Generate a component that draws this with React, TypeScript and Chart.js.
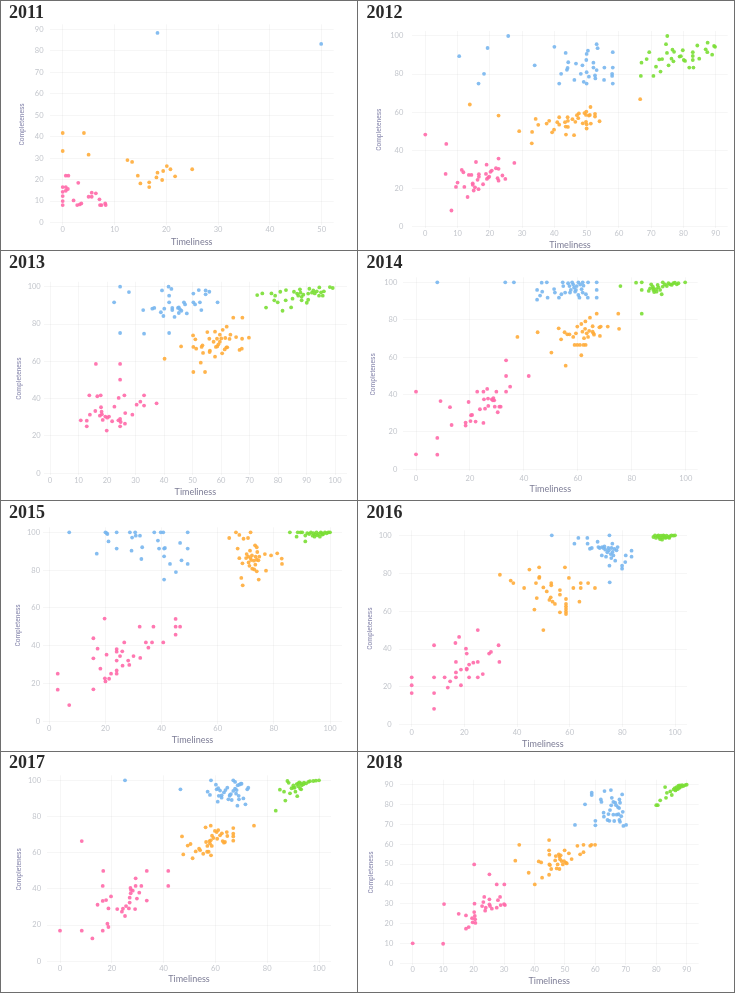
import React, { useEffect, useRef } from "react";
import { Chart, registerables } from "chart.js";
Chart.register(...registerables);

type Pts = [number, number][];

// ---------- data ----------
const pink2011: Pts = [[0.6,21.8],[1.1,21.8],[3.0,18.5],[0,16.5],[0.6,16.5],[1.0,15.6],[0.6,14.8],[0,14.3],[0,12.3],[0,10],[2.1,10.3],[0,8.1],[2.8,8.1],[3.3,8.4],[3.6,8.9],[5.0,12.0],[5.6,13.9],[5.6,12.0],[6.4,13.6],[7.1,10.8],[7.2,8.1],[7.5,8.1],[8.2,8.9],[8.3,8.1]];
const orange2011: Pts = [[0,41.7],[4.1,41.7],[0,33.3],[5.0,31.6],[12.5,29.1],[13.4,28.2],[14.5,21.8],[15.0,18.2],[16.7,18.7],[16.7,16.5],[18.1,21.0],[18.3,23.2],[19.2,19.8],[19.4,24.0],[20.1,26.3],[20.8,24.8],[21.7,21.5],[25.0,24.8]];
const blue2011: Pts = [[18.3,88.3],[49.9,83.2]];
const green2011: Pts = [];

const pink2012: Pts = [[0,48.2],[6.5,43.3],[6.3,27.5],[8.1,8.3],[9.5,20.7],[10.0,23.0],[11.3,29.6],[11.8,28.4],[12.1,20.7],[13.1,15.4],[13.5,27.0],[14.3,27.0],[14.7,22.6],[14.7,21.8],[15.0,18.8],[15.4,20.5],[15.7,33.8],[16.2,24.4],[16.6,27.4],[16.6,26.0],[16.5,19.5],[17.9,22.1],[18.8,27.5],[19.0,32.4],[19.1,24.9],[19.5,25.6],[19.8,26.1],[20.2,28.6],[20.6,29.3],[21.9,30.5],[22.7,30.2],[22.7,35.6],[22.4,25.3],[22.7,24.0],[23.9,26.7],[24.8,24.9],[27.6,33.3]];
const orange2012: Pts = [[66.6,66.8],[13.8,64.0],[22.7,58.2],[29.1,50.0],[33.1,49.6],[33.0,43.6],[34.2,56.4],[35.0,53.3],[37.6,54.0],[38.4,55.4],[39.3,49.4],[39.9,50.8],[40.9,54.7],[41.5,57.3],[41.5,53.4],[43.3,54.7],[43.5,52.4],[44.2,52.2],[43.6,48.2],[44.1,57.3],[44.2,55.4],[45.6,56.3],[46.1,47.9],[46.5,54.9],[47.0,58.4],[47.4,56.8],[47.6,59.3],[48.8,54.1],[49.3,59.5],[49.9,60.3],[49.8,58.5],[49.8,54.9],[50.0,53.6],[50.0,51.4],[50.7,58.2],[51.0,58.5],[51.2,62.7],[51.3,54.0],[52.6,59.1],[52.6,57.7],[54.0,55.2]];
const blue2012: Pts = [[25.7,100],[19.3,93.7],[10.5,89.4],[18.2,80.1],[16.5,75.0],[33.9,84.6],[40.0,94.3],[43.5,91.1],[44.3,86.2],[44.1,83.2],[43.9,82.2],[42.1,80.1],[41.5,75.0],[46.2,76.9],[46.7,85.5],[48.7,84.6],[48.2,80.1],[49.1,75.9],[50.0,75.0],[49.9,87.4],[50.0,90.6],[50.4,92.3],[50.7,78.6],[50.0,81.0],[52.1,86.0],[52.1,83.4],[52.7,77.7],[52.6,79.3],[53.1,95.7],[53.4,93.6],[53.1,82.1],[55.4,76.9],[55.5,83.4],[58.1,91.5],[58.1,83.4],[57.9,80.1],[57.9,79.0],[58.1,75.0]];
const green2012: Pts = [[75.0,100],[74.6,95.7],[74.9,91.1],[69.4,91.5],[68.6,87.9],[67.0,86.0],[66.8,79.0],[70.7,79.0],[71.5,83.9],[72.9,81.3],[72.5,87.7],[73.4,87.9],[75.4,84.6],[76.3,88.1],[76.6,92.8],[77.1,91.7],[76.9,86.7],[78.8,89.2],[79.8,92.5],[79.2,89.4],[80.1,87.4],[80.5,86.9],[81.8,83.4],[83.1,83.4],[82.9,91.5],[82.9,89.5],[82.9,87.4],[84.3,95.0],[84.9,88.1],[86.9,93.0],[87.5,96.5],[87.4,91.5],[88.9,90.2],[89.5,94.8],[89.8,94.3]];

const pink2013: Pts = [[16.1,58.6],[24.6,58.6],[24.6,50.2],[10.8,28.4],[12.9,28.2],[12.9,25.2],[14.0,31.4],[13.8,41.8],[15.9,33.4],[16.6,41.3],[17.8,41.8],[17.9,35.4],[18.1,33.0],[17.5,30.9],[18.2,31.6],[18.5,28.6],[19.4,30.4],[19.9,22.9],[20.1,29.8],[20.7,30.4],[21.8,27.9],[22.6,35.7],[24.1,40.4],[24.0,28.4],[24.6,29.1],[24.6,25.2],[24.8,27.5],[26.1,41.8],[26.4,32.3],[26.3,26.6],[28.9,31.4],[30.4,36.8],[31.7,38.4],[33.0,41.8],[33.0,36.3],[37.4,37.5]];
const orange2013: Pts = [[64.3,83.4],[67.5,83.4],[40.2,61.4],[46.0,68.0],[50.2,73.9],[51.0,71.8],[50.3,67.7],[50.3,54.3],[51.3,66.8],[52.9,59.3],[53.5,68.6],[53.2,67.7],[53.7,64.5],[54.4,54.3],[55.2,75.7],[55.9,72.1],[56.1,65.7],[56.0,65.0],[57.4,70.5],[57.9,75.9],[57.9,62.5],[58.2,67.7],[58.6,72.1],[58.7,68.0],[59.1,69.1],[59.6,74.3],[59.6,70.5],[60.1,72.3],[60.4,64.3],[60.6,76.9],[61.3,66.4],[61.5,72.5],[62.0,78.6],[61.9,67.5],[62.2,67.5],[63.0,72.0],[63.3,74.3],[65.3,73.0],[66.5,66.1],[67.3,66.8],[67.4,72.1],[69.8,72.7]];
const blue2013: Pts = [[24.6,100],[27.7,97.1],[22.5,91.6],[32.7,87.5],[24.6,75.2],[33.0,74.8],[41.8,75.2],[35.9,88.2],[36.6,88.6],[39.3,98.0],[38.9,86.3],[39.8,84.3],[40.1,88.2],[41.6,100],[42.6,98.8],[41.8,95.2],[41.8,91.6],[42.9,88.6],[42.9,87.5],[43.7,83.8],[44.9,88.6],[45.2,88.9],[45.6,87.9],[46.1,87.1],[45.2,85.9],[47.0,91.6],[47.4,90.5],[48.0,85.7],[50.3,96.3],[50.3,91.6],[50.9,90.5],[52.2,98.2],[52.6,91.6],[53.1,87.5],[54.6,98.0],[54.6,95.9],[55.9,97.3],[58.8,91.6]];
const green2013: Pts = [[72.7,95.5],[74.5,96.4],[75.8,88.8],[77.7,96.4],[79.0,95.2],[78.7,92.7],[79.9,91.6],[80.8,97.3],[81.6,87.1],[82.7,92.7],[82.8,98.2],[84.6,88.9],[85.1,93.6],[85.6,97.3],[86.7,96.3],[87.1,95.2],[87.7,98.6],[87.9,96.8],[88.3,94.6],[88.3,92.7],[88.9,95.7],[90.1,91.4],[90.6,93.0],[90.6,96.3],[91.0,98.9],[91.9,96.8],[92.4,98.0],[92.9,96.4],[93.6,97.5],[94.5,99.6],[94.4,95.2],[95.1,97.0],[95.7,95.2],[96.1,97.5],[98.2,99.8],[99.2,99.3]];

const pink2014: Pts = [[0,41.5],[0,8.0],[7.9,16.8],[7.9,7.8],[9.1,36.5],[12.6,33.2],[13.2,23.7],[18.4,25.0],[18.4,23.4],[19.5,36.0],[20.2,25.8],[20.4,28.9],[20.8,29.1],[22.1,25.5],[22.7,41.5],[23.7,32.1],[25.0,24.8],[25.2,37.4],[25.0,41.5],[25.6,32.4],[26.4,43.0],[26.7,37.8],[26.8,33.9],[28.1,37.4],[28.5,36.9],[28.7,38.1],[29.0,36.9],[29.2,33.5],[29.8,41.5],[30.3,30.5],[30.9,33.5],[31.4,33.5],[33.4,58.3],[33.4,49.9],[33.4,41.5],[34.9,44.2],[41.8,49.9]];
const orange2014: Pts = [[37.6,70.8],[45.1,73.3],[50.2,62.4],[55.5,55.4],[52.9,75.4],[53.8,69.5],[55.1,73.3],[56.1,72.2],[56.9,72.2],[58.3,70.8],[58.8,66.5],[59.3,72.7],[59.8,76.3],[59.8,66.5],[60.8,66.5],[61.3,77.7],[61.3,61.0],[61.7,73.6],[62.1,66.5],[62.3,70.1],[62.7,75.1],[62.8,79.1],[63.3,72.7],[62.9,66.5],[63.8,70.8],[64.5,81.1],[64.2,74.0],[65.5,76.5],[65.5,73.6],[65.8,72.7],[66.0,72.0],[67.0,83.2],[68.0,75.9],[68.2,71.3],[68.5,76.3],[71.1,76.3],[75.0,83.2],[75.3,75.1]];
const blue2014: Pts = [[7.9,100],[33.1,100],[36.3,100],[46.6,99.8],[48.5,100],[44.9,95.9],[46.8,95.0],[46.0,92.9],[44.9,90.7],[48.8,91.8],[51.2,96.4],[51.5,94.5],[53.0,91.8],[53.9,93.6],[54.4,100],[54.6,98.0],[55.3,94.5],[56.4,99.5],[56.9,98.0],[57.4,95.9],[57.1,94.5],[57.9,100],[58.3,98.8],[58.6,97.1],[59.0,95.0],[59.3,95.9],[59.6,98.0],[60.2,100],[60.2,93.2],[60.6,91.8],[60.9,98.8],[61.4,96.3],[61.8,100],[62.1,98.2],[61.8,94.5],[63.0,93.6],[63.8,100],[63.7,91.8],[67.0,100],[67.0,95.9],[67.0,91.8]];
const green2014: Pts = [[75.8,98.0],[81.6,99.8],[83.7,100],[83.7,95.9],[83.7,83.2],[87.2,98.9],[86.8,96.8],[86.3,95.4],[87.8,97.7],[88.0,95.9],[88.3,94.8],[89.1,96.4],[89.6,98.6],[89.9,97.3],[90.5,95.9],[91.1,93.6],[91.5,100],[91.5,97.7],[92.3,98.9],[93.0,98.0],[93.6,99.5],[94.2,98.9],[94.8,98.6],[95.4,99.5],[96.0,99.8],[96.7,98.9],[97.3,99.5],[99.8,100],[88.0,96.8],[89.2,95.0]];

const pink2015: Pts = [[3.0,25.3],[3.0,16.8],[7.1,8.7],[15.7,44.0],[15.7,33.4],[15.7,17.0],[17.2,38.5],[18.2,27.9],[19.7,54.4],[19.8,22.8],[20.0,21.2],[20.4,35.3],[21.3,22.6],[22.0,25.3],[24.0,38.3],[24.0,36.9],[24.0,32.2],[24.0,27.0],[24.0,25.3],[25.2,34.6],[26.0,37.1],[26.1,29.5],[26.7,41.8],[28.1,32.2],[28.5,29.9],[30.0,34.6],[32.2,50.1],[32.4,33.6],[34.4,41.8],[35.3,39.0],[36.6,41.8],[37.1,50.1],[40.6,41.8],[45.0,54.2],[45.0,50.1],[45.0,45.9],[46.6,50.1]];
const orange2015: Pts = [[64.1,97.0],[66.5,100],[67.7,98.6],[71.7,100],[69.2,96.6],[70.8,97.0],[67.1,91.4],[67.7,86.3],[68.8,83.6],[68.4,75.9],[68.9,72.0],[70.1,86.4],[70.3,88.5],[70.9,87.1],[71.0,84.1],[71.3,82.3],[71.5,90.3],[71.7,86.4],[71.9,85.3],[72.2,87.8],[72.3,80.8],[72.9,85.0],[73.0,80.4],[73.3,93.1],[73.4,82.9],[73.5,87.1],[73.9,85.5],[73.9,92.1],[74.1,89.6],[73.9,79.4],[74.5,85.2],[74.8,87.1],[74.6,75.0],[76.8,88.5],[77.2,79.7],[79.0,87.8],[81.2,88.9],[82.8,86.1],[82.9,83.3]];
const blue2015: Pts = [[7.1,100],[16.9,88.7],[20.0,100],[20.4,99.6],[20.7,99.1],[21.1,95.2],[24.0,100],[24.0,91.4],[28.7,100],[29.5,97.2],[30.6,100],[30.8,98.2],[29.3,90.3],[32.3,98.2],[33.1,92.1],[32.8,85.9],[37.4,100],[38.7,95.6],[39.1,91.4],[39.7,100],[40.6,100],[40.9,91.4],[40.9,87.3],[40.9,75.0],[41.2,91.7],[43.0,83.3],[45.1,79.0],[46.6,94.4],[47.1,85.2],[49.3,100],[49.3,91.4],[49.3,83.3]];
const green2015: Pts = [[85.7,100],[88.1,97.7],[88.5,100],[89.5,100],[90.1,100],[91.2,95.2],[91.2,98.3],[91.9,99.6],[92.6,99.1],[93.2,100],[93.8,98.2],[94.1,99.5],[94.7,98.8],[95.2,100],[95.5,98.4],[96.0,99.1],[96.4,97.7],[97.0,99.6],[97.6,99.1],[98.2,100],[98.8,99.5],[99.4,100],[100,100],[94.5,97.7],[96.7,100],[97.3,98.8]];

const pink2016: Pts = [[0,25.1],[0,20.9],[0,16.8],[8.5,42.0],[8.5,25.1],[8.5,16.8],[8.5,8.5],[12.5,25.1],[13.7,19.7],[14.6,23.0],[16.6,43.2],[16.8,33.2],[16.8,27.7],[16.8,25.1],[18.0,46.4],[18.7,29.2],[18.7,20.9],[20.6,40.2],[20.9,37.6],[20.9,29.2],[20.9,29.7],[21.8,31.8],[21.8,25.1],[23.4,32.8],[25.1,50.0],[25.1,33.2],[25.1,25.1],[27.0,26.8],[29.4,37.6],[30.1,38.5],[33.0,42.0],[33.3,33.2]];
const orange2016: Pts = [[33.5,79.2],[37.6,76.1],[38.6,74.8],[42.7,72.2],[44.7,81.9],[47.2,74.8],[47.5,66.9],[46.6,60.8],[48.4,83.1],[48.5,78.0],[48.4,77.5],[50.0,72.5],[50.0,50.0],[51.3,70.4],[52.8,67.3],[53.0,74.8],[53.0,73.6],[52.3,65.9],[53.5,65.0],[54.4,63.8],[56.3,71.1],[56.3,68.7],[56.3,59.4],[58.2,83.1],[58.6,66.4],[58.6,63.8],[58.6,62.4],[58.6,61.1],[58.6,59.7],[58.6,58.5],[59.7,77.5],[61.4,72.2],[63.7,65.0],[64.2,74.8],[64.2,72.2],[67.0,74.8],[69.6,72.2]];
const blue2016: Pts = [[53.2,100],[61.8,95.6],[63.3,98.6],[66.7,98.6],[66.8,95.6],[67.7,92.9],[68.4,93.3],[70.6,96.6],[70.9,93.8],[71.4,93.3],[72.2,89.4],[72.3,93.8],[72.8,93.3],[73.2,94.1],[73.5,92.4],[73.8,88.7],[74.3,91.0],[74.7,93.3],[74.9,92.1],[75.1,100],[75.1,84.0],[75.2,75.2],[75.6,90.1],[75.8,88.0],[75.9,93.3],[76.2,95.6],[76.3,91.2],[76.6,89.4],[77.0,92.8],[77.3,86.6],[77.8,92.1],[78.2,93.8],[79.9,84.0],[79.9,82.4],[81.1,85.9],[81.3,89.4],[83.5,91.9],[83.5,88.7]];
const green2016: Pts = [[91.8,99.1],[92.4,100],[92.8,98.6],[93.4,99.5],[94.1,98.9],[94.7,99.8],[95.1,97.7],[95.3,98.9],[95.8,99.5],[96.3,98.6],[96.8,99.8],[97.5,99.1],[98.1,99.5],[98.7,100],[99.4,99.8],[100,100],[93.7,100],[95.6,100],[94.3,98.0],[96.6,98.9],[97.8,98.6]];

const pink2017: Pts = [[0,16.9],[8.4,16.9],[8.4,66.4],[12.5,12.6],[14.5,31.2],[16.5,16.9],[16.5,33.3],[16.7,49.9],[16.5,41.6],[17.8,33.8],[18.7,29.2],[18.3,20.7],[18.7,18.9],[19.7,35.8],[22.1,28.8],[23.9,27.4],[24.3,29.0],[25.1,25.0],[25.5,30.5],[26.6,29.2],[26.9,32.4],[26.9,35.1],[27.2,40.5],[27.4,39.4],[27.3,37.5],[28.1,39.0],[29.0,28.8],[29.2,41.6],[29.2,45.8],[29.7,34.6],[30.6,37.9],[31.4,41.6],[33.5,49.9],[33.5,33.5],[41.8,49.9],[41.8,41.6]];
const orange2017: Pts = [[47.1,69.0],[47.6,59.0],[49.3,63.9],[50.4,64.8],[51.2,56.9],[52.4,60.7],[53.7,62.2],[54.1,61.4],[55.3,59.4],[56.2,74.0],[56.4,65.9],[56.8,60.5],[56.9,63.7],[57.4,60.5],[57.7,66.4],[57.9,65.0],[58.2,74.9],[58.2,66.8],[58.3,58.5],[58.6,63.7],[58.7,69.4],[59.2,68.1],[59.8,72.0],[60.5,71.4],[60.7,67.7],[61.1,72.5],[61.8,69.6],[62.5,70.7],[62.8,66.4],[63.3,65.5],[63.7,65.9],[64.4,71.4],[64.6,69.2],[66.9,73.6],[66.9,70.5],[66.9,69.0],[66.9,66.6],[74.9,74.9]];
const blue2017: Pts = [[25.1,100],[46.5,95.0],[58.3,100],[60.2,97.6],[57.0,93.7],[57.9,91.9],[60.5,95.0],[61.1,95.6],[61.8,94.3],[60.9,88.2],[61.3,91.4],[62.4,91.7],[62.4,90.4],[63.3,93.3],[63.9,94.6],[64.6,95.9],[65.0,89.5],[65.5,91.4],[65.6,91.9],[66.0,92.4],[66.3,89.1],[66.9,100],[67.6,99.1],[66.9,94.1],[67.6,95.4],[68.0,92.6],[68.2,94.6],[68.6,97.2],[68.5,86.0],[69.0,91.4],[69.2,97.6],[69.8,98.1],[70.1,98.1],[70.8,90.0],[71.6,86.7],[72.3,95.0],[72.7,95.9],[69.1,89.5]];
const green2017: Pts = [[83.3,83.2],[84.9,94.8],[86.5,93.7],[87.0,88.8],[87.8,99.6],[88.3,98.6],[88.8,92.8],[89.4,95.6],[90.1,97.2],[90.6,95.9],[90.9,93.7],[91.4,97.9],[91.6,91.2],[92.0,96.7],[92.4,98.9],[92.7,95.4],[93.1,98.3],[93.3,97.2],[94.0,97.8],[94.2,98.7],[95.0,98.3],[95.9,99.1],[96.5,99.5],[97.8,99.6],[98.8,99.8],[100,100],[92.0,98.3],[90.1,95.9],[93.1,95.0]];

const pink2018: Pts = [[0,10],[10.0,9.8],[10.3,29.8],[15.1,24.9],[17.5,24.1],[17.5,17.4],[18.4,18.2],[19.5,22.7],[19.7,20.6],[20.2,49.8],[20.3,30.0],[20.2,25.8],[20.4,23.8],[20.5,22.1],[20.6,20.3],[22.8,28.8],[23.2,30.8],[23.5,33.4],[23.8,26.5],[24.0,28.0],[25.2,44.8],[25.2,32.2],[25.2,29.7],[25.4,28.8],[26.0,27.5],[27.6,39.7],[27.6,28.0],[28.0,31.8],[28.7,33.4],[28.9,29.3],[30.1,39.7],[30.0,29.8],[30.3,29.3]];
const orange2018: Pts = [[33.7,51.7],[35.0,59.7],[38.1,45.6],[40.1,39.7],[41.4,51.3],[42.2,50.8],[42.5,43.1],[44.8,62.1],[44.8,56.9],[44.9,54.7],[44.9,49.8],[45.1,49.5],[44.8,44.6],[45.5,47.5],[46.8,51.8],[47.0,54.0],[47.3,47.8],[47.6,49.8],[48.0,54.9],[48.2,53.7],[48.2,47.5],[48.4,52.4],[48.6,54.4],[48.9,51.5],[49.3,49.8],[49.7,51.5],[49.9,56.9],[50.3,50.7],[50.6,50.3],[51.3,55.4],[52.2,52.5],[54.1,59.2],[55.0,54.9],[56.1,56.0],[56.1,59.7],[58.3,59.2],[58.7,59.7],[59.9,59.7]];
const blue2018: Pts = [[53.3,69.7],[58.8,86.0],[58.8,84.8],[56.6,80.1],[60.0,71.8],[60.0,69.5],[61.8,82.6],[62.0,81.3],[63.0,86.8],[65.1,87.3],[62.7,75.9],[62.8,73.9],[64.0,72.2],[64.6,71.8],[64.3,75.2],[64.8,77.2],[65.2,79.6],[65.4,83.4],[65.9,74.9],[66.2,71.7],[66.5,80.9],[66.8,79.7],[67.0,74.9],[67.4,78.7],[67.6,75.1],[67.8,78.2],[67.9,82.6],[67.9,72.2],[68.1,71.3],[68.5,74.1],[68.8,85.1],[69.0,76.3],[69.2,69.2],[70.1,69.7],[65.9,81.3],[68.1,80.9]];
const green2018: Pts = [[80.0,79.7],[80.5,79.7],[81.3,82.1],[82.9,88.8],[83.2,83.4],[83.5,85.9],[84.6,86.6],[85.1,84.8],[85.7,87.6],[86.1,88.3],[86.3,87.1],[86.7,88.8],[87.1,87.8],[87.3,89.5],[87.6,88.5],[87.8,89.7],[88.2,89.0],[88.5,89.8],[88.9,89.3],[89.5,89.8],[90.0,90.0],[86.5,87.6],[87.5,88.5]];

const ticks10to50 = [0, 10, 20, 30, 40, 50];
const ticks10to90 = [0, 10, 20, 30, 40, 50, 60, 70, 80, 90];
const ticks10to100 = [0, 10, 20, 30, 40, 50, 60, 70, 80, 90, 100];
const ticks20to100 = [0, 20, 40, 60, 80, 100];

const years = ["2011", "2012", "2013", "2014", "2015", "2016", "2017", "2018"];
const xTickSets = [ticks10to50, ticks10to90, ticks10to100, ticks20to100, ticks20to100, ticks20to100, ticks20to100, ticks10to90];
const yTickSets = [ticks10to90, ticks20to100, ticks20to100, ticks20to100, ticks20to100, ticks20to100, ticks20to100, ticks10to90];
const pinkSets = [pink2011, pink2012, pink2013, pink2014, pink2015, pink2016, pink2017, pink2018];
const orangeSets = [orange2011, orange2012, orange2013, orange2014, orange2015, orange2016, orange2017, orange2018];
const blueSets = [blue2011, blue2012, blue2013, blue2014, blue2015, blue2016, blue2017, blue2018];
const greenSets = [green2011, green2012, green2013, green2014, green2015, green2016, green2017, green2018];

// ---------- layout (page pixels) ----------
type Geom = { left: number; top: number; width: number; height: number; x0: number; x1: number; y0: number; y1: number; yLabRight: number; xLabY: number; timelY: number; complX: number; titleX: number; titleTop: number };
const geoms: Geom[] = [
  { left: 1, top: 1, width: 355, height: 249, x0: 62.7, x1: 321.7, y0: 222.5, y1: 29.3, yLabRight: 43.5, xLabY: 230, timelY: 242, complX: 22, titleX: 9, titleTop: 3 },
  { left: 358, top: 1, width: 375, height: 249, x0: 425.3, x1: 715.7, y0: 226.3, y1: 36, yLabRight: 403.3, xLabY: 234, timelY: 245.5, complX: 379, titleX: 366.5, titleTop: 3 },
  { left: 1, top: 251, width: 355, height: 249, x0: 50, x1: 335, y0: 473.3, y1: 286.7, yLabRight: 40.7, xLabY: 480.7, timelY: 492.3, complX: 19, titleX: 9, titleTop: 253 },
  { left: 358, top: 251, width: 375, height: 249, x0: 416, x1: 685.7, y0: 469.3, y1: 282.3, yLabRight: 397.3, xLabY: 478.3, timelY: 489, complX: 373, titleX: 366.5, titleTop: 253 },
  { left: 1, top: 501, width: 355, height: 250, x0: 49.3, x1: 330, y0: 721.5, y1: 532.3, yLabRight: 40, xLabY: 728.7, timelY: 739.7, complX: 18, titleX: 9, titleTop: 502.5 },
  { left: 358, top: 501, width: 375, height: 250, x0: 411.7, x1: 675, y0: 724.9, y1: 535.3, yLabRight: 391.7, xLabY: 733, timelY: 743.7, complX: 370, titleX: 366.5, titleTop: 502.5 },
  { left: 1, top: 752, width: 355, height: 240, x0: 60, x1: 319, y0: 961.2, y1: 780.3, yLabRight: 41, xLabY: 968.3, timelY: 978.7, complX: 19.3, titleX: 9, titleTop: 753 },
  { left: 358, top: 752, width: 375, height: 240, x0: 412.7, x1: 686.7, y0: 963.2, y1: 784.7, yLabRight: 393.3, xLabY: 970, timelY: 981.3, complX: 370.7, titleX: 366.5, titleTop: 753 },
];

const COLORS = {
  pink: "rgba(255,105,168,0.9)",
  orange: "rgba(255,172,58,0.9)",
  blue: "rgba(120,182,238,0.9)",
  green: "rgba(122,222,52,0.9)",
};

function Panel({ idx }: { idx: number }) {
  const ref = useRef<HTMLCanvasElement | null>(null);
  const g = geoms[idx];
  useEffect(() => {
    if (!ref.current) return;
    const xT = xTickSets[idx];
    const yT = yTickSets[idx];
    const lx0 = g.x0 - g.left, lx1 = g.x1 - g.left;
    const ly0 = g.y0 - g.top, ly1 = g.y1 - g.top;
    const labRight = g.yLabRight - g.left;
    const L = Math.max(lx0 - 13, labRight + 3);
    const R = lx1 + 12, T = ly1 - 5, B = ly0 + 2;
    const xF = xT[0], xLst = xT[xT.length - 1];
    const yF = yT[0], yLst = yT[yT.length - 1];
    const pxX = (lx1 - lx0) / (xLst - xF);
    const pxY = (ly0 - ly1) / (yLst - yF);
    const xmin = xF - (lx0 - L) / pxX;
    const xmax = xLst + (R - lx1) / pxX;
    const ymin = yF - (B - ly0) / pxY;
    const ymax = yLst + (ly1 - T) / pxY;
    const tickSize = 7.5, tickLH = tickSize * 1.2;
    const tSize = 9, tLH = tSize * 1.2;
    const cSize = 7.5, cLH = cSize * 1.2;
    const padLeft = g.complX - g.left - cLH / 2;
    const padBottom = g.height - (g.timelY - g.top + tLH / 2);
    const yAxisW = L - padLeft;
    const xAxisH = g.height - padBottom - B;
    const yTickPad = L - labRight;
    const xTickPad = Math.max(0, g.xLabY - g.top - B - tickLH / 2);
    const mk = (pts: Pts, color: string) => ({
      data: pts.map(([x, y]) => ({ x, y })),
      backgroundColor: color,
      borderWidth: 0,
      pointRadius: 1.9,
      pointStyle: "circle" as const,
    });
    const chart = new Chart(ref.current, {
      type: "scatter",
      data: {
        datasets: [
          mk(pinkSets[idx], COLORS.pink),
          mk(orangeSets[idx], COLORS.orange),
          mk(blueSets[idx], COLORS.blue),
          mk(greenSets[idx], COLORS.green),
        ],
      },
      options: {
        animation: false,
        responsive: false,
        devicePixelRatio: 1,
        events: [],
        layout: { padding: { left: padLeft, right: g.width - R, top: T, bottom: padBottom } },
        plugins: { legend: { display: false }, tooltip: { enabled: false }, title: { display: false } },
        scales: {
          x: {
            type: "linear",
            min: xmin,
            max: xmax,
            afterBuildTicks: (axis: any) => { axis.ticks = xT.map((v) => ({ value: v })); },
            afterFit: (axis: any) => { axis.height = xAxisH; },
            grid: { color: "rgba(0,0,0,0.035)", drawTicks: false, lineWidth: 1 },
            border: { display: false },
            ticks: { padding: xTickPad, color: "#c3c6cc", font: { family: "Lato, 'DejaVu Sans', sans-serif", size: tickSize }, callback: (v: any) => String(v), maxRotation: 0, autoSkip: false },
            title: { display: true, text: "Timeliness", color: "#7d7d96", padding: 0, font: { family: "Lato, 'DejaVu Sans', sans-serif", size: tSize } },
          },
          y: {
            type: "linear",
            min: ymin,
            max: ymax,
            afterBuildTicks: (axis: any) => { axis.ticks = yT.map((v) => ({ value: v })); },
            afterFit: (axis: any) => { axis.width = yAxisW; },
            grid: { color: "rgba(0,0,0,0.035)", drawTicks: false, lineWidth: 1 },
            border: { display: false },
            ticks: { padding: yTickPad, color: "#c3c6cc", font: { family: "Lato, 'DejaVu Sans', sans-serif", size: tickSize }, callback: (v: any) => String(v), autoSkip: false },
            title: { display: true, text: "Completeness", color: "#8c8cb0", padding: 0, font: { family: "'Liberation Sans Narrow', 'Roboto Condensed', Roboto, sans-serif", size: cSize } },
          },
        },
      } as any,
    });
    return () => chart.destroy();
  }, [idx]);
  return (
    <>
      <canvas
        ref={ref}
        width={g.width}
        height={g.height}
        style={{ position: "absolute", left: g.left, top: g.top, width: g.width, height: g.height }}
      />
      <div
        style={{
          position: "absolute",
          left: g.titleX,
          top: g.titleTop,
          fontFamily: "'Liberation Serif', 'Times New Roman', serif",
          fontWeight: 700,
          fontSize: 18,
          lineHeight: "18px",
          color: "#2a2a2a",
          whiteSpace: "nowrap",
        }}
      >
        {years[idx]}
      </div>
    </>
  );
}

const LINE = "#6e6e6e";

export default function App() {
  const line = (l: number, t: number, w: number, h: number) => (
    <div style={{ position: "absolute", left: l, top: t, width: w, height: h, background: LINE }} />
  );
  return (
    <div style={{ position: "absolute", left: 0, top: 0, width: 736, height: 993, background: "#ffffff", overflow: "hidden" }}>
      {years.map((_, i) => (
        <Panel key={i} idx={i} />
      ))}
      {line(0, 0, 735, 1)}
      {line(0, 0, 1, 993)}
      {line(733.5, 0, 1.5, 993)}
      {line(0, 991.5, 735, 1.5)}
      {line(356.5, 0, 1.3, 993)}
      {line(0, 249.8, 735, 1.2)}
      {line(0, 500, 735, 1.2)}
      {line(0, 750.5, 735, 1.2)}
    </div>
  );
}
